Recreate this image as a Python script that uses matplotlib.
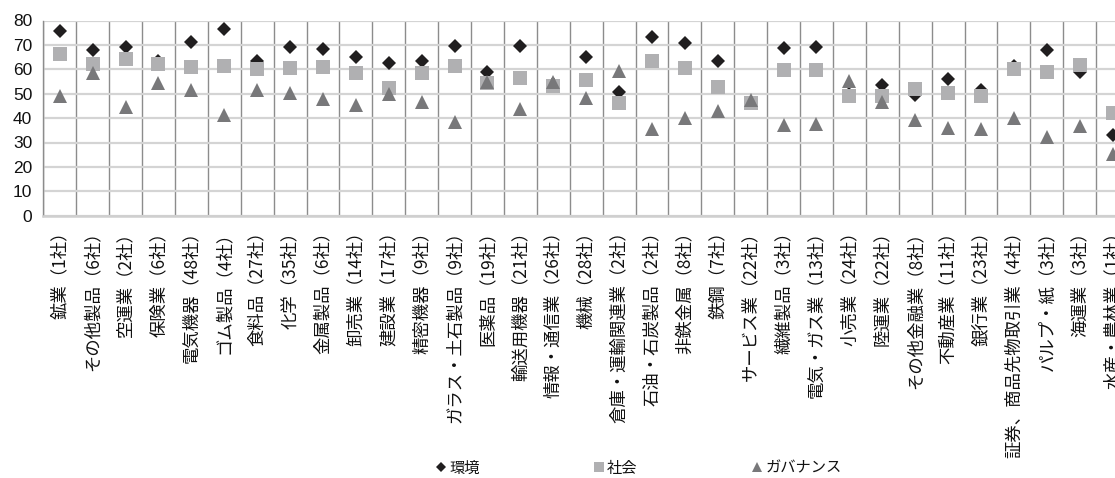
import matplotlib
matplotlib.use("Agg")
import matplotlib.pyplot as plt
import numpy as np
from matplotlib.ticker import FixedLocator, NullFormatter

plt.rcParams['font.family'] = ['Noto Sans CJK JP', 'DejaVu Sans']

categories = [
    "鉱業（1社）", "その他製品（6社）", "空運業（2社）", "保険業（6社）", "電気機器（48社）",
    "ゴム製品（4社）", "食料品（27社）", "化学（35社）", "金属製品（6社）", "卸売業（14社）",
    "建設業（17社）", "精密機器（9社）", "ガラス・土石製品（9社）", "医薬品（19社）",
    "輸送用機器（21社）", "情報・通信業（26社）", "機械（28社）", "倉庫・運輸関連業（2社）",
    "石油・石炭製品（2社）", "非鉄金属（8社）", "鉄鋼（7社）", "サービス業（22社）",
    "繊維製品（3社）", "電気・ガス業（13社）", "小売業（24社）", "陸運業（22社）",
    "その他金融業（8社）", "不動産業（11社）", "銀行業（23社）", "証券、商品先物取引業（4社）",
    "パルプ・紙（3社）", "海運業（3社）", "水産・農林業（1社）",
]

env = [75.7, 67.9, 69.0, 63.2, 71.2, 76.4, 63.5, 69.1, 68.5, 65.0,
       62.7, 63.5, 69.7, 59.0, 69.7, 54.0, 64.9, 50.8, 73.1, 70.7,
       63.5, 46.0, 68.9, 69.3, 50.0, 53.6, 49.5, 56.0, 51.5, 61.5,
       67.8, 58.8, 33.1]
soc = [66.1, 62.0, 64.1, 62.2, 60.9, 61.5, 60.3, 60.5, 60.8, 58.6,
       52.5, 58.4, 61.4, 54.3, 56.3, 53.2, 55.6, 46.1, 63.4, 60.4,
       52.6, 46.2, 59.6, 59.6, 48.9, 48.9, 51.8, 50.2, 49.2, 60.1,
       59.0, 61.8, 42.0]
gov = [48.9, 58.4, 44.7, 54.4, 51.6, 41.1, 51.6, 50.3, 47.8, 45.2,
       49.7, 46.7, 38.4, 54.6, 43.7, 54.9, 48.2, 59.4, 35.7, 40.0,
       42.8, 47.4, 37.3, 37.6, 55.4, 46.7, 39.3, 35.8, 35.5, 39.9,
       32.1, 36.9, 25.3]
series_names = ["環境", "社会", "ガバナンス"]
yticks = [0, 10, 20, 30, 40, 50, 60, 70, 80]

fig = plt.figure(figsize=(11.15, 4.78), dpi=100)
W, H = 1115, 478
left_px, top_px, bottom_px = 43.3, 20.5, 215.7
cat_w = 32.9
n = len(categories)
ax = fig.add_axes([left_px / W, 1 - bottom_px / H, cat_w * n / W, (bottom_px - top_px) / H])

x = np.arange(n)
ax.plot(x, env, linestyle='none', marker='D', markersize=7.2, color='#201e1f',
        markeredgewidth=0, label=series_names[0], zorder=3)
ax.plot(x, soc, linestyle='none', marker='s', markersize=10.5, color='#b0b0b2',
        markeredgewidth=0, label=series_names[1], zorder=4)
ax.plot(x, gov, linestyle='none', marker='^', markersize=10.4, color='#78787a',
        markeredgewidth=0, label=series_names[2], zorder=5)

ax.set_xlim(-0.5, n - 0.5)
ax.set_ylim(0, 80)
ax.set_yticks(yticks)
ax.set_yticklabels([str(v) for v in yticks], family=['Liberation Sans'], fontsize=12.5, color='#111111')
ax.set_xticks(x)
ax.set_xticklabels(categories, rotation=90, fontsize=12.5, color='#111111', va='top', ha='center')
ax.xaxis.set_minor_locator(FixedLocator(np.arange(-0.5, n, 1.0)))
ax.xaxis.set_minor_formatter(NullFormatter())
ax.tick_params(axis='both', which='both', length=0)
ax.tick_params(axis='y', pad=8)
ax.tick_params(axis='x', pad=5)

ax.grid(axis='y', which='major', color='#d4d4d4', linewidth=1.6, zorder=1)
ax.grid(axis='x', which='minor', color='#8c8c8c', linewidth=1.0, zorder=1)
ax.grid(axis='x', which='major', visible=False)
ax.set_axisbelow(True)
for side in ['top', 'right']:
    ax.spines[side].set_visible(False)
ax.spines['left'].set_color('#8c8c8c')
ax.spines['left'].set_linewidth(1.0)
ax.spines['bottom'].set_color('#cfcfcf')
ax.spines['bottom'].set_linewidth(1.8)

leg = fig.legend(loc='center', bbox_to_anchor=(638 / W, 1 - 468 / H), ncol=3, frameon=False,
                 fontsize=11, handlelength=0.8, handletextpad=0.15, columnspacing=7.4,
                 markerscale=0.75, borderaxespad=0)
for t in leg.get_texts():
    t.set_color('#111111')

fig.savefig('out.png', dpi=100)
